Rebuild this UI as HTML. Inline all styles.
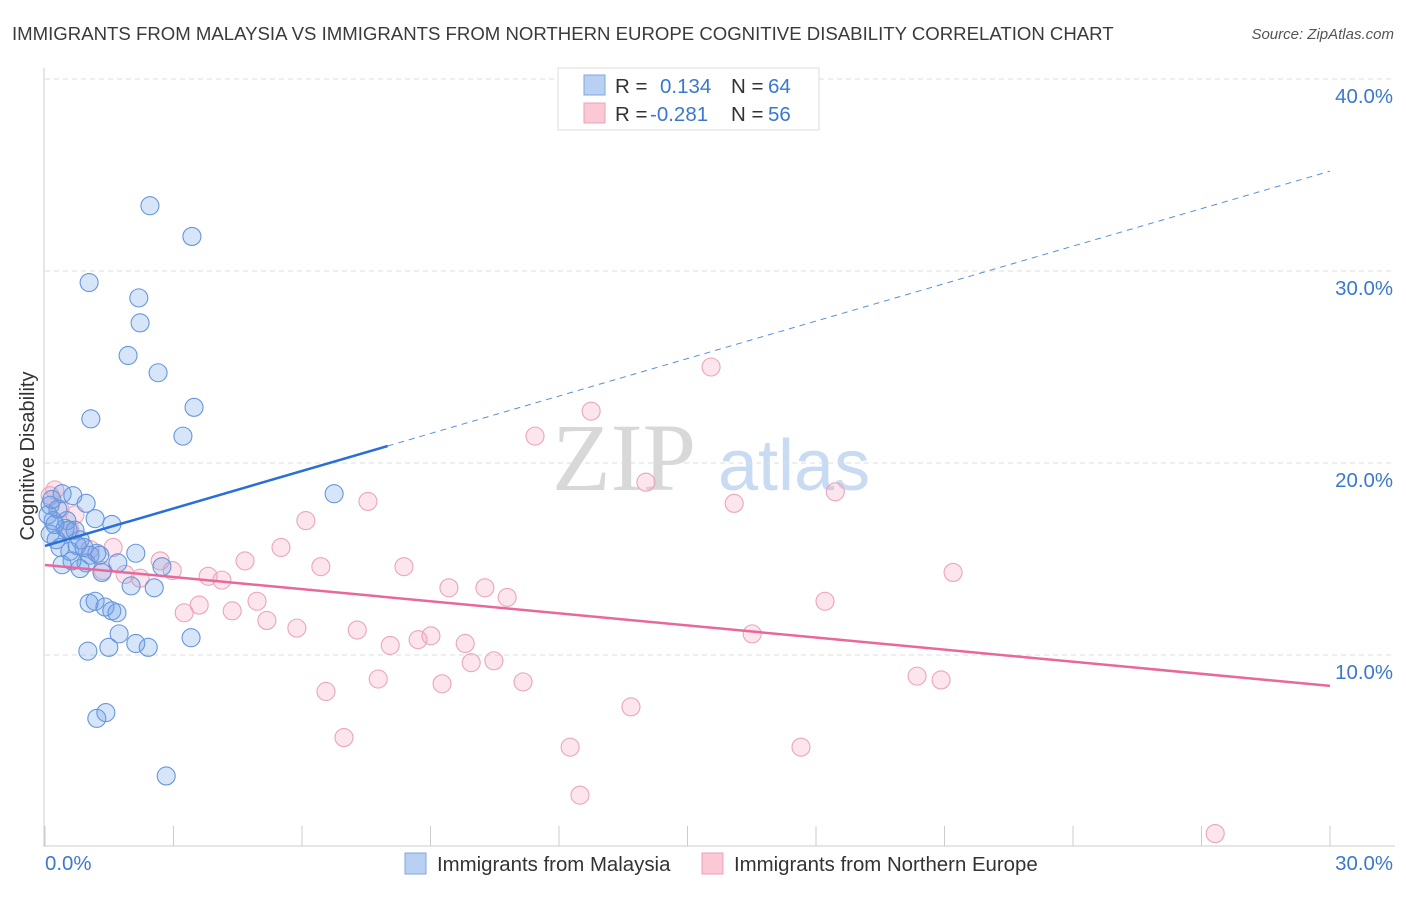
<!DOCTYPE html>
<html><head><meta charset="utf-8"><style>
body{margin:0;background:#fff;font-family:"Liberation Sans",sans-serif}
</style></head><body>
<svg id="chart" width="1406" height="892" xmlns="http://www.w3.org/2000/svg" font-family="Liberation Sans, sans-serif">
<text x="12" y="40" font-size="18.6" fill="#3a3a3a">IMMIGRANTS FROM MALAYSIA VS IMMIGRANTS FROM NORTHERN EUROPE COGNITIVE DISABILITY CORRELATION CHART</text>
<text x="1394" y="39" font-size="15" fill="#555" font-style="italic" text-anchor="end">Source: ZipAtlas.com</text>
<text transform="translate(34,456) rotate(-90)" font-size="20" fill="#333" text-anchor="middle">Cognitive Disability</text>
<g>
<text x="552" y="490" font-family="Liberation Serif, serif" font-size="96" fill="#d8d8d8">ZIP</text>
<text x="718" y="490" font-size="72" fill="#c9dbf2">atlas</text>
</g>
<g id="grid"></g><g id="axes"></g><g id="pts"></g><g id="lines"></g>
<g>
<rect x="558" y="68" width="261" height="62" fill="#fff" stroke="#ddd"/>
<rect x="584" y="75" width="21" height="20" fill="#b8d1f3" stroke="#7ea7e3"/>
<rect x="584" y="103" width="21" height="20" fill="#fbc9d6" stroke="#eda0b6"/>
<text x="615" y="93" font-size="20.5" fill="#333">R = </text><text x="660" y="93" font-size="20.5" fill="#3a78d0">0.134</text>
<text x="731" y="93" font-size="20.5" fill="#333">N = </text><text x="768" y="93" font-size="20.5" fill="#3a78d0">64</text>
<text x="615" y="121" font-size="20.5" fill="#333">R = </text><text x="650" y="121" font-size="20.5" fill="#3a78d0">-0.281</text>
<text x="731" y="121" font-size="20.5" fill="#333">N = </text><text x="768" y="121" font-size="20.5" fill="#3a78d0">56</text>
</g>
<g>
<rect x="405" y="853" width="21" height="21" fill="#b8d1f3" stroke="#7ea7e3"/>
<text x="437" y="871" font-size="20.4" fill="#333">Immigrants from Malaysia</text>
<rect x="702" y="853" width="21" height="21" fill="#fbc9d6" stroke="#eda0b6"/>
<text x="734" y="871" font-size="20.4" fill="#333">Immigrants from Northern Europe</text>
</g>
</svg>
<script>
const xTickLabels=["0.0%","30.0%"];
const yTicks=[10,20,30,40];
const yTickLabels=["10.0%","20.0%","30.0%","40.0%"];
const blueX=[2.45,3.43,1.03,2.19,2.22,1.94,2.64,3.48,1.07,3.22,6.75,0.12,0.40,0.65,0.96,1.17,1.56,0.19,0.47,0.82,0.35,0.58,0.75,1.05,1.21,0.96,0.82,1.33,1.70,2.12,2.73,2.01,2.55,1.03,1.17,1.40,1.56,1.68,1.73,2.12,2.41,3.41,1.00,1.49,1.21,1.42,2.83,0.12,0.26,0.51,0.70,0.30,0.07,0.16,0.63,0.91,0.40,1.28,0.54,0.23];
const blueY=[33.4,31.8,29.4,28.6,27.3,25.6,24.7,22.9,22.3,21.4,18.4,17.8,18.4,18.3,17.9,17.1,16.8,17.0,16.6,16.0,15.6,15.4,15.7,15.2,15.3,14.8,14.5,14.3,14.8,15.3,14.6,13.6,13.5,12.7,12.8,12.5,12.3,12.2,11.1,10.6,10.4,10.9,10.2,10.4,6.7,7.0,3.7,16.3,16.0,17.0,16.5,17.6,17.3,18.1,14.9,15.6,14.7,15.2,16.5,16.8];
const pinkX=[15.55,12.75,11.44,14.03,16.09,18.45,7.54,6.09,5.51,4.67,6.44,8.38,2.69,2.97,1.87,2.22,3.81,4.13,1.35,1.59,3.60,3.25,4.37,4.95,5.18,5.88,7.29,9.43,10.27,10.79,8.06,8.71,9.01,9.81,9.95,10.48,11.16,9.27,7.78,6.56,6.98,12.26,12.49,13.68,16.51,18.21,21.2,20.36,20.92,17.65,27.32,0.12,0.35,0.58,1.05,0.70,0.23];
const pinkY=[25.0,22.7,21.4,19.0,17.9,18.5,18.0,17.0,15.6,14.9,14.6,14.6,14.9,14.4,14.2,14.0,14.1,13.9,14.4,15.6,12.6,12.2,12.3,12.8,11.8,11.4,11.3,13.5,13.5,13.0,10.5,10.8,11.0,10.6,9.6,9.7,8.6,8.5,8.75,8.1,5.7,5.2,2.7,7.3,11.1,12.8,14.3,8.9,8.7,5.2,0.7,18.3,17.6,16.5,15.5,17.3,18.6];
const blueTrend=[15.68,35.2]; const blueSolidEnd=8.0;
const pinkTrend=[14.69,8.39];
const NS="http://www.w3.org/2000/svg";
const sx=v=>45+v/30*1285, sy=v=>847-v*19.2;
function mk(t,a,p){const e=document.createElementNS(NS,t);for(const k in a)e.setAttribute(k,a[k]);p.appendChild(e);return e;}
const grid=document.getElementById('grid'),axes=document.getElementById('axes'),pts=document.getElementById('pts'),lines=document.getElementById('lines');
yTicks.forEach((t,i)=>{
 const l=mk('line',{x1:45,x2:1395,y1:sy(t),y2:sy(t),stroke:'#ddd','stroke-dasharray':'5,4'},grid);
 
 
 const tx=mk('text',{x:1393,y:sy(t)+24,'font-size':20.4,fill:'#3a78d0','text-anchor':'end'},grid);
 tx.textContent=yTickLabels[i];
 
 
});
const ax=mk('line',{x1:44,x2:44,y1:68,y2:847,stroke:'#ccc'},axes);


const bx=mk('line',{x1:44,x2:1395,y1:846,y2:846,stroke:'#ccc'},axes);


for(let i=0;i<=10;i++){const tk=mk('line',{x1:sx(i*3),x2:sx(i*3),y1:826,y2:846,stroke:'#ccc'},axes);
 
 }
[[0,'start'],[30,'end']].forEach((d,i)=>{const t=mk('text',{x:i?1393:45,y:870,'font-size':20.4,fill:'#3a78d0','text-anchor':d[1]},axes);t.textContent=xTickLabels[i];
 
 });
function dots(X,Y,fill,stroke,name){X.forEach((x,i)=>{const c=mk('circle',{cx:sx(x),cy:sy(Y[i]),r:9,fill:fill,stroke:stroke,'stroke-width':1.1},pts);
 
 });}
dots(pinkX,pinkY,'rgba(245,160,190,0.28)','#eaa5bc','point-northern-europe');
dots(blueX,blueY,'rgba(110,160,235,0.28)','#6696dc','point-malaysia');
const bAt=x=>blueTrend[0]+(blueTrend[1]-blueTrend[0])*x/30;
const l1=mk('line',{x1:sx(0),y1:sy(bAt(0)),x2:sx(blueSolidEnd),y2:sy(bAt(blueSolidEnd)),stroke:'#2a6fd6','stroke-width':2.5},lines);


const l2=mk('line',{x1:sx(blueSolidEnd),y1:sy(bAt(blueSolidEnd)),x2:sx(30),y2:sy(bAt(30)),stroke:'#5b8fd9','stroke-width':1,'stroke-dasharray':'6,5'},lines);


const l3=mk('line',{x1:sx(0),y1:sy(pinkTrend[0]),x2:sx(30),y2:sy(pinkTrend[1]),stroke:'#e8689a','stroke-width':2.5},lines);


</script>
</body></html>
